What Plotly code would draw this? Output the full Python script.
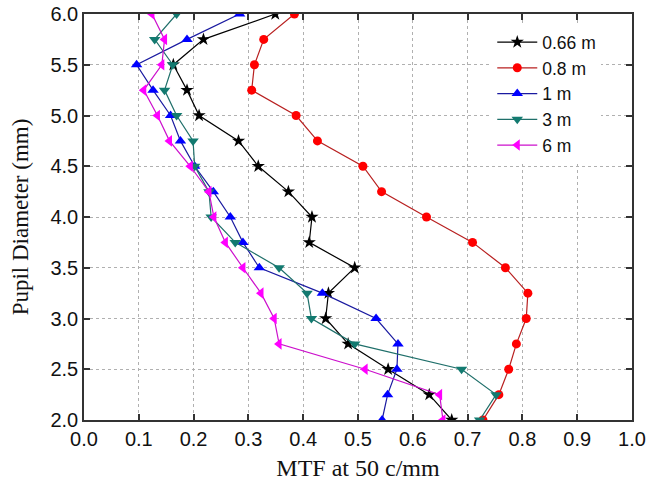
import plotly.graph_objects as go

pupil = [2.0, 2.25, 2.5, 2.75, 3.0, 3.25, 3.5, 3.75, 4.0, 4.25, 4.5, 4.75, 5.0, 5.25, 5.5, 5.75, 6.0]

mtf_066 = [0.671, 0.630, 0.555, 0.482, 0.441, 0.446, 0.494, 0.411, 0.416, 0.373, 0.318, 0.282, 0.210, 0.188, 0.163, 0.218, 0.349]
mtf_08 = [0.728, 0.757, 0.775, 0.789, 0.807, 0.810, 0.769, 0.709, 0.625, 0.543, 0.509, 0.426, 0.387, 0.306, 0.311, 0.328, 0.384]
mtf_1 = [0.544, 0.554, 0.571, 0.573, 0.533, 0.435, 0.320, 0.290, 0.267, 0.236, 0.202, 0.176, 0.158, 0.126, 0.096, 0.188, 0.284]
mtf_3 = [0.722, 0.752, 0.689, 0.494, 0.415, 0.407, 0.356, 0.276, 0.232, 0.228, 0.202, 0.199, 0.169, 0.147, 0.162, 0.129, 0.169]
mtf_6 = [0.655, 0.649, 0.513, 0.356, 0.347, 0.323, 0.290, 0.258, 0.237, 0.228, 0.194, 0.156, 0.134, 0.109, 0.142, 0.147, 0.124]

names = ["0.66 m", "0.8 m", "1 m", "3 m", "6 m"]
series = [mtf_066, mtf_08, mtf_1, mtf_3, mtf_6]
line_colors = ["#000000", "#b82020", "#1a1aa0", "#1f6f6a", "#cc10cc"]
marker_colors = ["#000000", "#ff0000", "#0000ff", "#137a70", "#ff00ff"]
symbols = ["star", "circle", "triangle-up", "triangle-down", "triangle-left"]
sizes = [10, 9, 10, 10, 10]

fig = go.Figure()
for name, vals, lc, mc, sym, sz in zip(names, series, line_colors, marker_colors, symbols, sizes):
    fig.add_trace(go.Scatter(
        x=vals, y=pupil, mode="lines+markers", name=name,
        line=dict(color=lc, width=1.2),
        marker=dict(symbol=sym, size=sz, color=mc, line=dict(width=0)),
    ))

axis_common = dict(
    showline=True, linecolor="#333333", linewidth=1.5, mirror="allticks",
    ticks="inside", ticklen=6, tickcolor="#333333", tickwidth=1.5,
    showgrid=True, gridcolor="#b0b0b0", griddash="3px,3px", gridwidth=1,
    zeroline=False, automargin=False,
    tickfont=dict(family="Liberation Sans, Arial", size=20, color="#111111"),
)

fig.update_xaxes(range=[0, 1.0], dtick=0.1, tickformat=".1f",
                 title=dict(text="MTF at 50 c/mm", font=dict(family="Liberation Serif, Times New Roman", size=24, color="#111111")),
                 **axis_common)
fig.update_yaxes(range=[2.0, 6.0], dtick=0.5, tickformat=".1f",
                 title=dict(text="Pupil Diameter (mm)", font=dict(family="Liberation Serif, Times New Roman", size=23, color="#111111")),
                 **axis_common)

fig.update_layout(
    width=658, height=481,
    margin=dict(l=84, r=26, t=14, b=61),
    plot_bgcolor="white", paper_bgcolor="white",
    legend=dict(x=0.745, y=0.975, xanchor="left", yanchor="top",
                bgcolor="white", borderwidth=0,
                font=dict(family="Liberation Sans, Arial", size=17.5, color="#111111"),
                tracegroupgap=0, itemwidth=40),
)

fig.write_html("out.html")
